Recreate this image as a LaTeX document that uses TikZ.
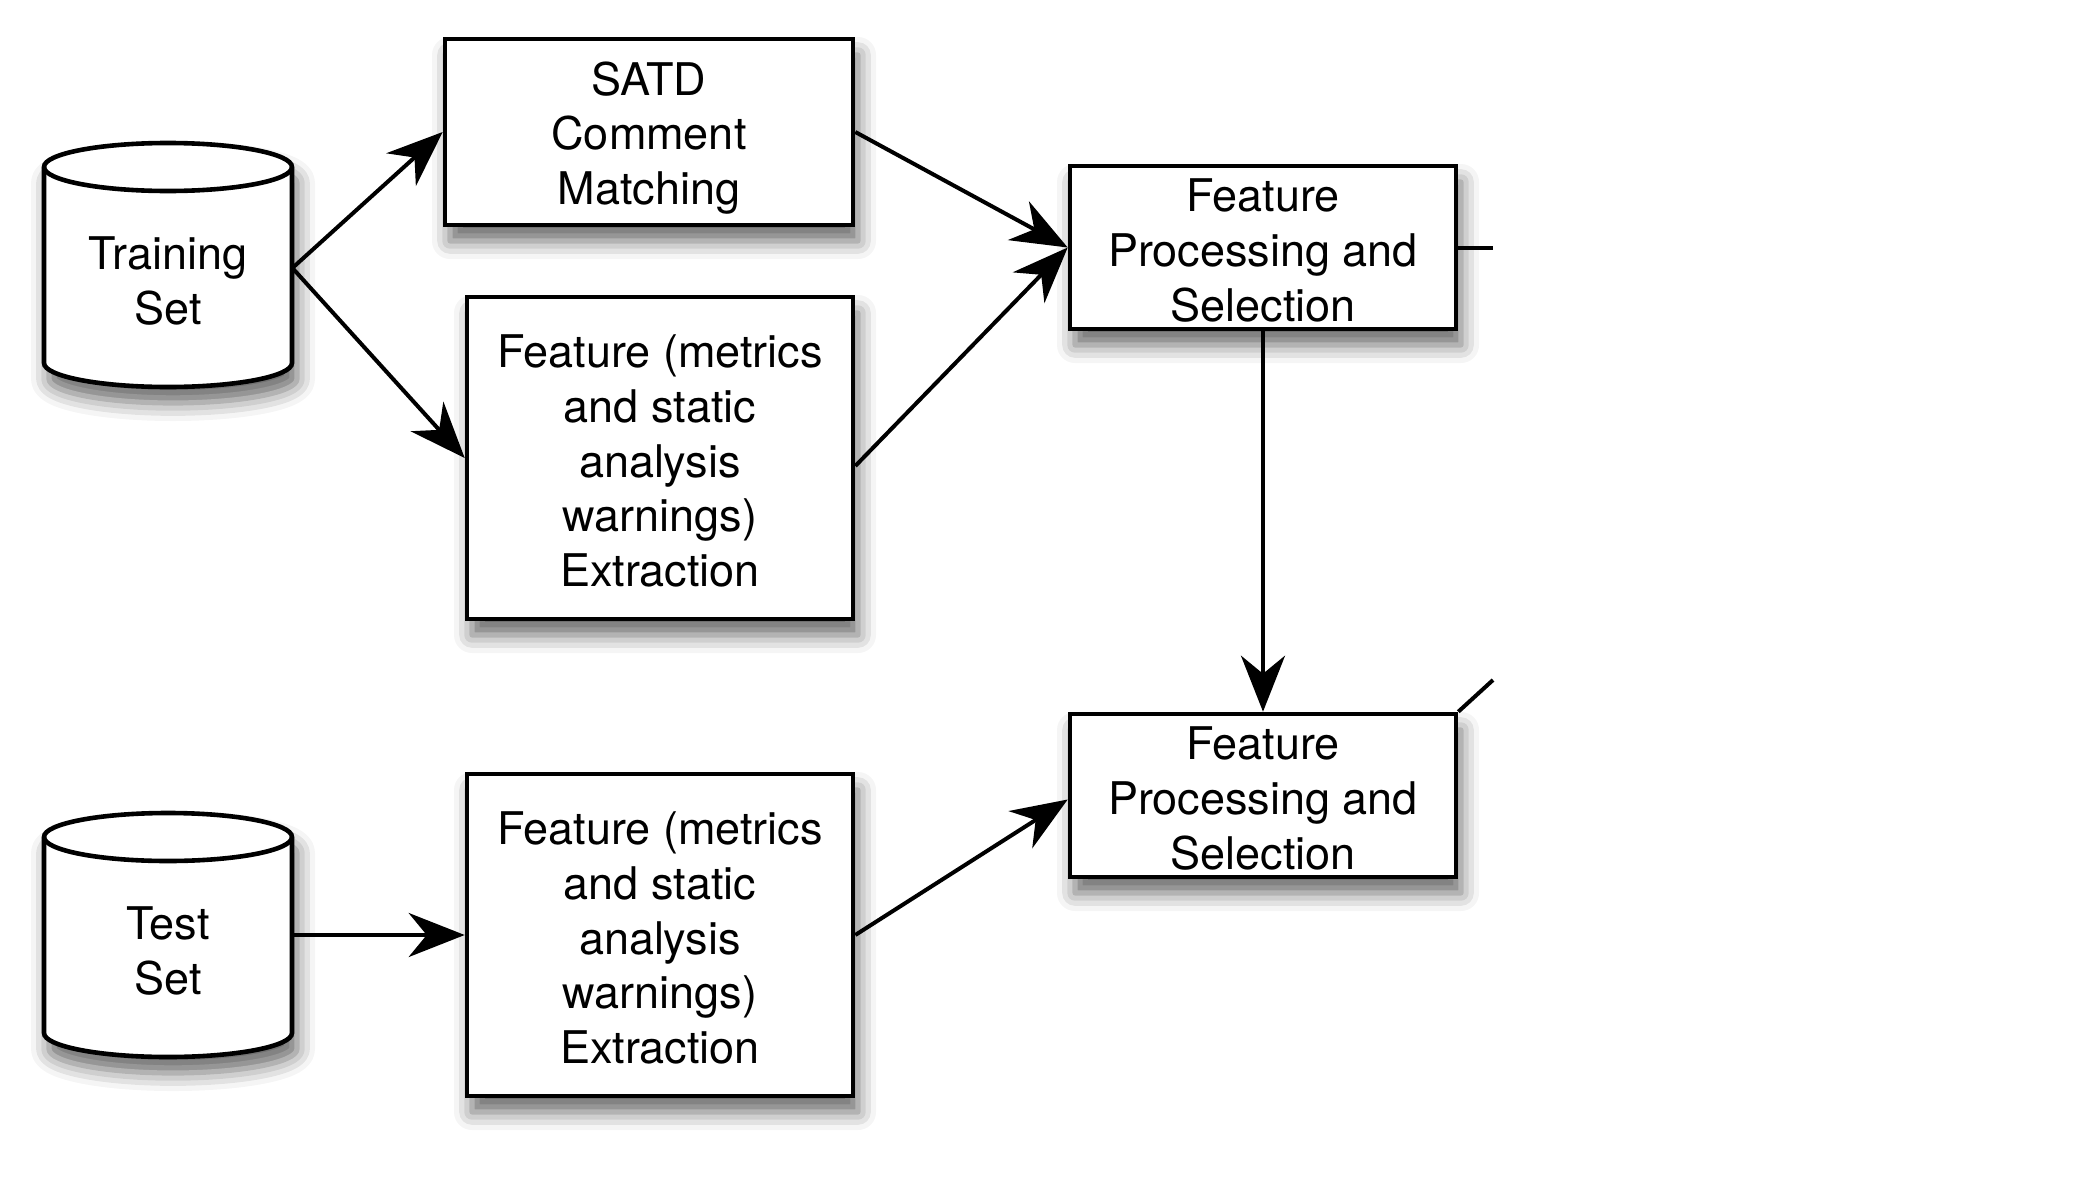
\documentclass[tikz,border=0pt]{standalone}
\usepackage{fontspec}
\setmainfont{TeX Gyre Heros}
\usetikzlibrary{arrows.meta,shadows.blur}
\begin{document}
\begin{tikzpicture}[x=0.5pt,y=0.5pt,
  every node/.style={font=\fontsize{22.5}{27.3}\selectfont},
  boxshadow/.style={blur shadow={shadow xshift=2.5pt,shadow yshift=-8pt,shadow blur radius=9pt,shadow opacity=60}},
  procbox/.style={draw=black,line width=2.3pt,fill=white,inner sep=0pt,boxshadow},
  inlbl/.style={label={[align=center,inner sep=0pt,yshift=#1]center:{}}},
  cylbody/.style={draw=black,line width=2.3pt,fill=white,boxshadow},
  txt/.style={align=center,inner sep=0pt},
  conn/.style={line width=2pt,draw=black,-{Stealth[length=28pt,width=22pt,inset=9pt]}},
  plainconn/.style={line width=2pt}]
\useasboundingbox (0,0) rectangle (2100,-1178);

% Training Set cylinder
\path[cylbody] (44,-167) -- (44,-363) arc[start angle=180,end angle=360,x radius=124,y radius=24] -- (292,-167) arc[start angle=0,end angle=180,x radius=124,y radius=24] -- cycle;
\draw[line width=2.3pt] (44,-167) arc[start angle=180,end angle=360,x radius=124,y radius=24];
\node[txt,minimum width=124pt] (train) at (168,-281) {Training\\Set};

% Test Set cylinder
\path[cylbody] (44,-837) -- (44,-1033) arc[start angle=180,end angle=360,x radius=124,y radius=24] -- (292,-837) arc[start angle=0,end angle=180,x radius=124,y radius=24] -- cycle;
\draw[line width=2.3pt] (44,-837) arc[start angle=180,end angle=360,x radius=124,y radius=24];
\node[txt,minimum width=124pt] (test) at (168,-951) {Test\\Set};

% Boxes (outlines)
\node[procbox,minimum width=204pt,minimum height=93pt] (satd) at (649,-132) {};
\node[procbox,minimum width=193pt,minimum height=161pt] (fe1) at (660,-458) {};
\node[procbox,minimum width=193pt,minimum height=81.5pt] (fp1) at (1263,-247.5) {};
\node[procbox,minimum width=193pt,minimum height=81.5pt] (fp2) at (1263,-795.5) {};
\node[procbox,minimum width=193pt,minimum height=161pt] (fe2) at (660,-935) {};

% Box texts
\node[txt] (satdtxt) at ([yshift=-3pt]satd.center) {SATD\\Comment\\Matching};
\node[txt] (fe1txt) at ([yshift=-1.5pt]fe1.center) {Feature (metrics\\and static\\analysis\\warnings)\\Extraction};
\node[txt] (fp1txt) at ([yshift=-1.5pt]fp1.center) {Feature\\Processing and\\Selection};
\node[txt] (fp2txt) at ([yshift=-1.5pt]fp2.center) {Feature\\Processing and\\Selection};
\node[txt] (fe2txt) at ([yshift=-1.5pt]fe2.center) {Feature (metrics\\and static\\analysis\\warnings)\\Extraction};

\coordinate (out1) at (1493,-247.5);
\coordinate (out2) at (1493,-680);

% Connectors
\draw[conn] ([yshift=6.5pt]train.east) -- (satd.west);
\draw[conn] ([yshift=6.5pt]train.east) -- (fe1.west);
\draw[conn] ([yshift=8pt]test.east) -- (fe2.west);
\draw[conn] (satd.east) -- (fp1.west);
\draw[conn] ([yshift=-4pt]fe1.east) -- (fp1.west);
\draw[conn] (fp1.south) -- (fp2.north);
\draw[conn] (fe2.east) -- ([yshift=-2pt]fp2.west);
\draw[plainconn] (fp1.east) -- (out1);
\draw[plainconn] (fp2.north east) -- (out2);
\end{tikzpicture}
\end{document}
